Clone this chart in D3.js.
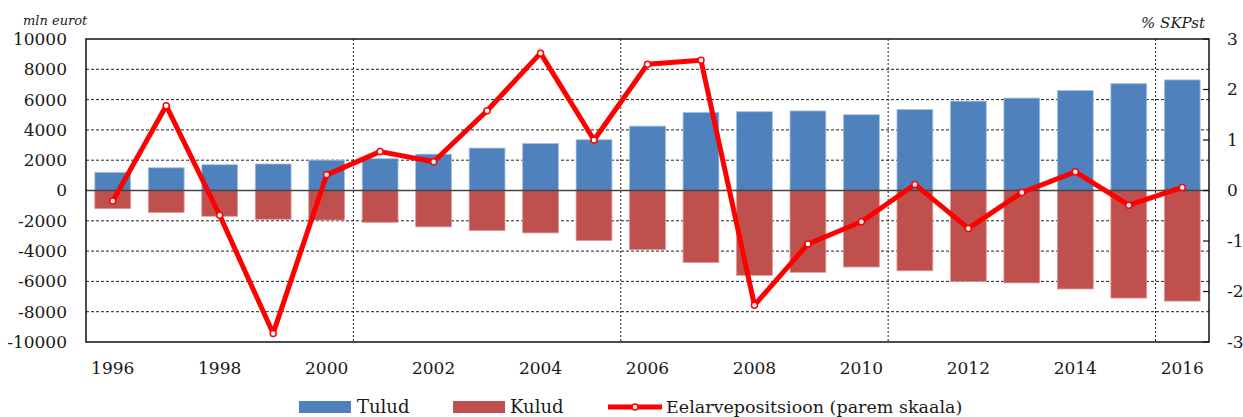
<!DOCTYPE html>
<html>
<head>
<meta charset="utf-8">
<script src="https://cdn.jsdelivr.net/npm/d3@7"></script>
<style>
  body { margin: 0; background: #fff; }
</style>
</head>
<body>
<svg id="chart" width="1243" height="417"></svg>
<script>
// data
var years = d3.range(1996, 2017);
var tulud = [1200, 1500, 1700, 1750, 2000, 2100, 2400, 2800, 3100, 3350, 4250,
             5150, 5200, 5250, 5000, 5350, 5900, 6100, 6600, 7050, 7300];
var kulud = [-1200, -1450, -1700, -1900, -1950, -2100, -2400, -2650, -2800, -3300, -3900,
             -4750, -5600, -5400, -5050, -5300, -6000, -6100, -6500, -7100, -7300];
var eelarve = [-0.21, 1.68, -0.49, -2.83, 0.31, 0.77, 0.57, 1.58, 2.72, 1.0, 2.5,
               2.58, -2.27, -1.06, -0.62, 0.12, -0.75, -0.04, 0.37, -0.29, 0.06];
var leftTicks = d3.range(-10000, 10001, 2000);
var rightTicks = [-3, -2, -1, 0, 1, 2, 3];
var xLabels = years.filter(function(y) { return (y - 1996) % 2 === 0; });

var m = { left: 86, right: 1209, top: 39, bottom: 342 };
var font = "DejaVu Serif";
var svg = d3.select('#chart').attr('font-family', font).attr('fill', '#1a1a1a');

var x = d3.scaleBand().domain(years).range([m.left, m.right]).paddingInner(0.33).paddingOuter(0.165);
var y = d3.scaleLinear().domain([-10000, 10000]).range([m.bottom, m.top]);
var y2 = d3.scaleLinear().domain([-3, 3]).range([m.bottom, m.top]);
var step = x.step();

// horizontal gridlines
svg.append('g').selectAll('line')
  .data(leftTicks.filter(function(d) { return d !== 0 && Math.abs(d) !== 10000; }))
  .join('line')
  .attr('x1', m.left).attr('x2', m.right)
  .attr('y1', function(d) { return y(d); }).attr('y2', function(d) { return y(d); })
  .attr('stroke', '#222').attr('stroke-width', 1).attr('stroke-dasharray', '3,2');

// vertical gridlines every 5 categories
svg.append('g').selectAll('line')
  .data([5, 10, 15, 20])
  .join('line')
  .attr('x1', function(i) { return m.left + i * step; })
  .attr('x2', function(i) { return m.left + i * step; })
  .attr('y1', m.top).attr('y2', m.bottom)
  .attr('stroke', '#222').attr('stroke-width', 1).attr('stroke-dasharray', '2,2');

// bars
svg.append('g').selectAll('rect')
  .data(tulud)
  .join('rect')
  .attr('x', function(d, i) { return x(years[i]); })
  .attr('width', x.bandwidth())
  .attr('y', function(d) { return y(d); })
  .attr('height', function(d) { return y(0) - y(d); })
  .attr('fill', '#4F81BD').attr('stroke', '#a7c0e0').attr('stroke-width', 0.8);

svg.append('g').selectAll('rect')
  .data(kulud)
  .join('rect')
  .attr('x', function(d, i) { return x(years[i]); })
  .attr('width', x.bandwidth())
  .attr('y', y(0))
  .attr('height', function(d) { return y(d) - y(0); })
  .attr('fill', '#C0504D').attr('stroke', '#dd9a98').attr('stroke-width', 0.8);

// zero line
svg.append('line')
  .attr('x1', m.left).attr('x2', m.right).attr('y1', y(0)).attr('y2', y(0))
  .attr('stroke', '#444').attr('stroke-width', 1.5);

// frame
svg.append('rect')
  .attr('x', m.left).attr('y', m.top)
  .attr('width', m.right - m.left).attr('height', m.bottom - m.top)
  .attr('fill', 'none').attr('stroke', '#111').attr('stroke-width', 1.5);

// left axis labels
svg.append('g').selectAll('text')
  .data(leftTicks)
  .join('text')
  .attr('x', 67).attr('y', function(d) { return y(d); })
  .attr('dy', '0.35em').attr('text-anchor', 'end')
  .attr('font-size', 17)
  .text(function(d) { return d; });

// right axis ticks + labels
svg.append('g').selectAll('line')
  .data(rightTicks)
  .join('line')
  .attr('x1', m.right - 6).attr('x2', m.right)
  .attr('y1', function(d) { return y2(d); }).attr('y2', function(d) { return y2(d); })
  .attr('stroke', '#111').attr('stroke-width', 1.2);

svg.append('g').selectAll('text')
  .data(rightTicks)
  .join('text')
  .attr('x', 1227).attr('y', function(d) { return y2(d); })
  .attr('dy', '0.35em')
  .attr('font-size', 17)
  .text(function(d) { return d; });

// x labels
svg.append('g').selectAll('text')
  .data(xLabels)
  .join('text')
  .attr('x', function(d) { return x(d) + x.bandwidth() / 2; })
  .attr('y', 374)
  .attr('text-anchor', 'middle')
  .attr('font-size', 17)
  .text(function(d) { return d; });

// axis titles
svg.append('text').attr('x', 23).attr('y', 25)
  .attr('font-size', 13).attr('font-style', 'italic').text('mln eurot');
svg.append('text').attr('x', 1205).attr('y', 28).attr('text-anchor', 'end')
  .attr('font-size', 15).attr('font-style', 'italic').text('% SKPst');

// line
var line = d3.line()
  .x(function(d, i) { return x(years[i]) + x.bandwidth() / 2; })
  .y(function(d) { return y2(d); });

svg.append('path')
  .datum(eelarve)
  .attr('d', line)
  .attr('fill', 'none').attr('stroke', '#FF0000').attr('stroke-width', 5)
  .attr('stroke-linejoin', 'round');

svg.append('g').selectAll('circle')
  .data(eelarve)
  .join('circle')
  .attr('cx', function(d, i) { return x(years[i]) + x.bandwidth() / 2; })
  .attr('cy', function(d) { return y2(d); })
  .attr('r', 3).attr('fill', '#fff').attr('stroke', '#FF0000').attr('stroke-width', 1.5);

// legend
var leg = svg.append('g');
leg.append('rect').attr('x', 299).attr('y', 401).attr('width', 52).attr('height', 12).attr('fill', '#4F81BD');
leg.append('text').attr('x', 357).attr('y', 413).attr('font-size', 18).text('Tulud');
leg.append('rect').attr('x', 453).attr('y', 401).attr('width', 52).attr('height', 12).attr('fill', '#C0504D');
leg.append('text').attr('x', 510).attr('y', 413).attr('font-size', 18).text('Kulud');
leg.append('line').attr('x1', 608).attr('x2', 662).attr('y1', 407).attr('y2', 407)
  .attr('stroke', '#FF0000').attr('stroke-width', 5);
leg.append('circle').attr('cx', 635).attr('cy', 407).attr('r', 3)
  .attr('fill', '#fff').attr('stroke', '#FF0000').attr('stroke-width', 1.5);
leg.append('text').attr('x', 666).attr('y', 413).attr('font-size', 17.5).text('Eelarvepositsioon (parem skaala)');
</script>
</body>
</html>
